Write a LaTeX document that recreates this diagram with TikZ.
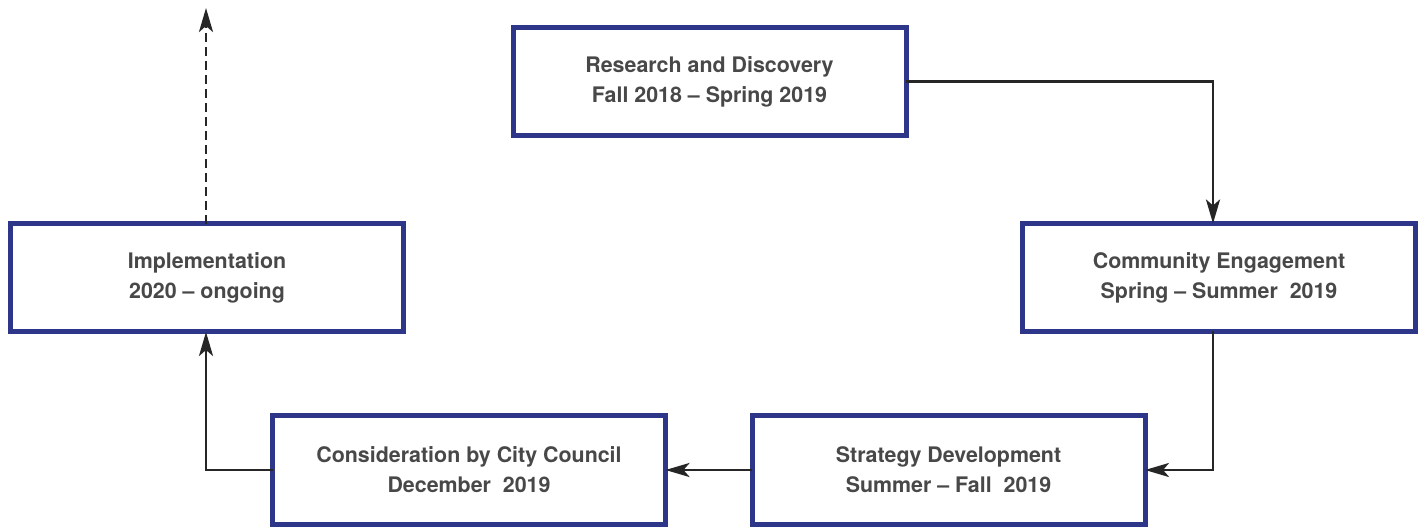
\documentclass[tikz,border=0pt]{standalone}
\usepackage{fontspec}
\setmainfont{TeX Gyre Heros}
\usetikzlibrary{arrows.meta}
\definecolor{stageblue}{RGB}{46,54,138}
\definecolor{stagetext}{RGB}{72,72,72}

\begin{document}
\begin{tikzpicture}[x=1pt,y=1pt,>={Stealth[length=24pt,width=14pt,inset=6pt]},
	stage/.style={minimum width=393pt,minimum height=108pt,inner sep=0pt,outer sep=0pt,draw=stageblue,line width=5pt,fill=white,align=center,text=stagetext,font=\bfseries\fontsize{21.4}{30}\selectfont},
	link/.style={->,line width=2.8pt,draw=black!85}]
	\useasboundingbox (0,0) rectangle (1423,527);
	\node [stage] at (709.5,445.5) (research) {Research and Discovery\\Fall 2018 -- Spring 2019};
	\node [stage] at (1219,249.5) (community) {Community Engagement\\Spring -- Summer\ \ 2019};
	\node [stage] at (948.5,57) (strategy) {Strategy Development\\Summer -- Fall\ \ 2019};
	\node [stage] at (469,57) (council) {Consideration by City Council\\December\ \ 2019};
	\node [stage] at (207,249) (implement) {Implementation\\2020 -- ongoing};
	\coordinate (beyond) at (206,519);
	\draw [link] (research.east) -| ([xshift=-6pt]community.north);
	\draw [link] ([xshift=-6pt]community.south) |- (strategy.east);
	\draw [link] (strategy.west) -- (council.east);
	\draw [link] (council.west) -| ([xshift=-1pt]implement.south);
	\draw [link,dash pattern=on 9pt off 5pt] ([xshift=-1pt]implement.north) -- (beyond);
\end{tikzpicture}
\end{document}
